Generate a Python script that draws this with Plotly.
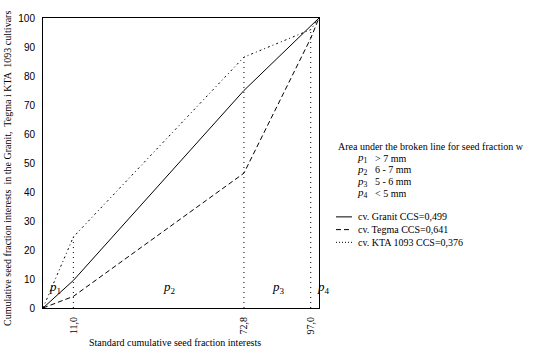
import plotly.graph_objects as go

# data
x_std = [0, 11.0, 72.8, 97.0, 100]
granit = [0, 9.5, 75, 97.5, 100]
tegma = [0, 4, 46.5, 93, 100]
kta = [0, 24.5, 86.5, 96, 100]
boundaries = [11.0, 72.8, 97.0]
boundary_tops = [24.5, 86.5, 96]
tick_labels = ["11,0", "72,8", "97,0"]
p_labels = ["1", "2", "3", "4"]
p_x = [4.5, 46, 85.5, 101.5]
p_y = [7, 7, 7, 7]
legend_names = ["cv. Granit CCS=0,499", "cv. Tegma CCS=0,641", "cv. KTA 1093 CCS=0,376"]
fraction_desc = ["&gt; 7 mm", "6 - 7 mm", "5 - 6 mm", "&lt; 5 mm"]

W, H = 538, 355
L, R, T, B = 43, 319, 12, 308
def px(x):
    return (x - L) / (R - L)
def py(y):
    return (B - y) / (B - T)

SERIF = "Liberation Serif"
fig = go.Figure()

dashes = ["solid", "5px,3px", "2px,3px,1px,3px"]
series = [granit, tegma, kta]
for name, ys, d in zip(legend_names, series, dashes):
    fig.add_trace(go.Scatter(x=x_std, y=ys, mode="lines", name=name,
                             line=dict(color="black", width=1, dash=d),
                             showlegend=False, hoverinfo="skip"))

for bx, bt in zip(boundaries, boundary_tops):
    fig.add_trace(go.Scatter(x=[bx, bx], y=[0, bt], mode="lines",
                             line=dict(color="black", width=1, dash="1px,4px"),
                             showlegend=False, hoverinfo="skip"))

def ann(x, y, text, size=10, xanchor="center", angle=0, italic_font=False):
    return dict(x=x, y=y, xref="paper", yref="paper", showarrow=False,
                xanchor=xanchor, yanchor="middle", textangle=angle, text=text,
                font=dict(family=SERIF, size=size, color="black"))

annotations = []
for lab, xx, yy in zip(p_labels, p_x, p_y):
    annotations.append(ann(xx / 100, yy / 100, f"<i>p</i><sub>{lab}</sub>", size=13))

# axis titles
annotations.append(ann(px(175), py(343), "Standard cumulative seed fraction interests"))
annotations.append(ann(px(8), py(166),
                       "Cumulative seed fraction interests  in the Granit,  Tegma i KTA  1093 cultivars",
                       angle=-90))

# legend block
annotations.append(ann(px(336), py(143), "Area under the broken line for seed fraction w", xanchor="left"))
for i, (lab, desc) in enumerate(zip(p_labels, fraction_desc)):
    yy = 155 + 12 * i
    annotations.append(ann(px(355), py(yy), f"<i>p</i><sub>{lab}</sub>", size=11, xanchor="left"))
    annotations.append(ann(px(373), py(yy), desc, xanchor="left"))

shapes = []
for i, (name, d) in enumerate(zip(legend_names, dashes)):
    yy = 215 + 13 * i
    shapes.append(dict(type="line", xref="paper", yref="paper",
                       x0=px(336), x1=px(352), y0=py(yy), y1=py(yy),
                       line=dict(color="black", width=1, dash=d if i < 2 else "1px,2px")))
    annotations.append(ann(px(356), py(yy), name, xanchor="left"))

fig.update_layout(
    width=W, height=H,
    margin=dict(l=L, r=W - R, t=T, b=H - B, pad=0),
    paper_bgcolor="white", plot_bgcolor="white",
    annotations=annotations, shapes=shapes,
    xaxis=dict(range=[0, 100], showgrid=False, zeroline=False, showline=True,
               linecolor="black", linewidth=1, mirror=True, ticks="",
               tickmode="array", tickvals=boundaries, ticktext=tick_labels,
               tickangle=-90, ticklabelstandoff=4,
               tickfont=dict(family=SERIF, size=10, color="black")),
    yaxis=dict(range=[0, 100], showgrid=False, zeroline=False, showline=True,
               linecolor="black", linewidth=1, mirror=True, ticks="",
               tickmode="array", tickvals=list(range(0, 101, 10)),
               ticklabelstandoff=5,
               tickfont=dict(family="Liberation Sans", size=10, color="black")),
)

fig.write_html("out.html")
